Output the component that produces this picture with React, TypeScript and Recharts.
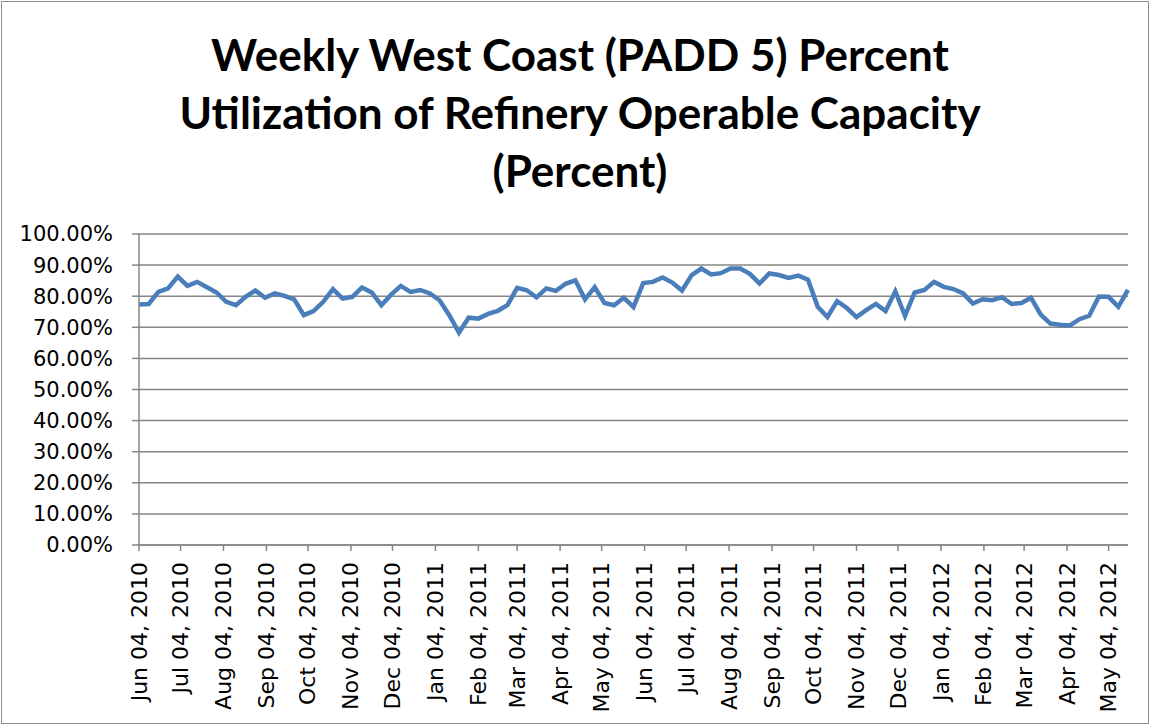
import React from "react";
import { LineChart, Line, XAxis, YAxis, CartesianGrid } from "recharts";

// weekly observations, first one on Jun 04, 2010
const START = { year: 2010, month: 5, day: 4 };

const utilization = [
  77.3, 77.5, 81.4, 82.5, 86.3, 83.3, 84.6, 82.9, 81.2, 78.2,
  77.1, 79.8, 81.8, 79.5, 80.9, 80.1, 79.0, 73.9, 75.2, 78.2,
  82.3, 79.2, 79.8, 82.8, 81.2, 77.1, 80.5, 83.3, 81.4, 82.0,
  80.9, 78.7, 73.9, 68.3, 73.1, 72.8, 74.3, 75.3, 77.1, 82.7,
  81.9, 79.6, 82.5, 81.7, 84.0, 85.1, 79.0, 82.9, 77.8, 77.1,
  79.5, 76.5, 84.2, 84.6, 86.0, 84.4, 81.8, 86.8, 88.9, 87.0,
  87.4, 88.9, 88.9, 87.2, 84.1, 87.3, 86.8, 85.9, 86.6, 85.3,
  76.6, 73.3, 78.4, 76.2, 73.3, 75.5, 77.5, 75.2, 81.6, 73.7,
  81.2, 82.0, 84.6, 83.0, 82.3, 80.9, 77.6, 79.0, 78.7, 79.7,
  77.5, 77.8, 79.5, 74.1, 71.2, 70.8, 70.6, 72.6, 73.7, 79.9,
  79.8, 76.6, 82.0,
];

const tickLabels = [
  "Jun 04, 2010", "Jul 04, 2010", "Aug 04, 2010", "Sep 04, 2010",
  "Oct 04, 2010", "Nov 04, 2010", "Dec 04, 2010", "Jan 04, 2011",
  "Feb 04, 2011", "Mar 04, 2011", "Apr 04, 2011", "May 04, 2011",
  "Jun 04, 2011", "Jul 04, 2011", "Aug 04, 2011", "Sep 04, 2011",
  "Oct 04, 2011", "Nov 04, 2011", "Dec 04, 2011", "Jan 04, 2012",
  "Feb 04, 2012", "Mar 04, 2012", "Apr 04, 2012", "May 04, 2012",
];

const yTicks = [0, 10, 20, 30, 40, 50, 60, 70, 80, 90, 100];

const MONTHS = ["Jan", "Feb", "Mar", "Apr", "May", "Jun", "Jul", "Aug", "Sep", "Oct", "Nov", "Dec"];
const DAY = 86400000;
const startMs = Date.UTC(START.year, START.month, START.day);

// "Mon DD, YYYY" -> days after the first observation
const labelToDay = (label: string) => {
  const mon = label.slice(0, 3);
  const d = parseInt(label.slice(4, 6), 10);
  const year = Number(label.slice(-4));
  return (Date.UTC(year, MONTHS.indexOf(mon), d) - startMs) / DAY;
};

const data = utilization.map((v, i) => ({ day: i * 7, value: v }));
const tickDays = tickLabels.map(labelToDay);
const dayToLabel: Record<number, string> = {};
tickDays.forEach((d, i) => (dayToLabel[d] = tickLabels[i]));

const GRID = "#868686";
const LABEL_FONT = "'DejaVu Sans', sans-serif";

const XTick = (props: any) => {
  const { x, y, payload } = props;
  return (
    <text
      transform={`translate(${x},${y + 7}) rotate(-90)`}
      textAnchor="end"
      dominantBaseline="central"
      fontSize={22}
      fontFamily={LABEL_FONT}
      fill="#000"
    >
      {dayToLabel[payload.value]}
    </text>
  );
};

export default function App() {
  return (
    <div
      style={{
        position: "absolute",
        left: 0,
        top: 0,
        width: 1151,
        height: 725,
        background: "#fff",
      }}
    >
      <div
        style={{
          position: "absolute",
          left: 1,
          top: 1,
          width: 1146,
          height: 721,
          border: "1px solid #8c8c8c",
        }}
      />
      <div
        style={{
          position: "absolute",
          left: 0,
          top: 25,
          width: 1160,
          textAlign: "center",
          fontFamily: "Lato, sans-serif",
          fontWeight: 700,
          fontSize: 44,
          lineHeight: "58px",
          color: "#000",
        }}
      >
        Weekly West Coast (PADD 5) Percent
        <br />
        Utilization of Refinery Operable Capacity
        <br />
        (Percent)
      </div>
      <LineChart
        width={1151}
        height={725}
        data={data}
        margin={{ top: 234, right: 23, left: 0, bottom: 0 }}
      >
        <CartesianGrid vertical={false} stroke={GRID} strokeWidth={1.5} />
        <XAxis
          dataKey="day"
          type="number"
          domain={[0, (utilization.length - 1) * 7]}
          ticks={tickDays}
          interval={0}
          height={180}
          stroke={GRID}
          strokeWidth={1.5}
          tickSize={6}
          tickMargin={4}
          tick={<XTick />}
        />
        <YAxis
          type="number"
          domain={[0, 100]}
          ticks={yTicks}
          interval={0}
          width={139}
          stroke={GRID}
          strokeWidth={1.5}
          tickSize={7}
          tickMargin={19}
          tickFormatter={(v: number) => `${v.toFixed(2)}%`}
          tick={{ fill: "#000", fontSize: 21, fontFamily: LABEL_FONT }}
        />
        <Line
          type="linear"
          dataKey="value"
          stroke="#4A7EBB"
          strokeWidth={4.5}
          dot={false}
          isAnimationActive={false}
        />
      </LineChart>
    </div>
  );
}
